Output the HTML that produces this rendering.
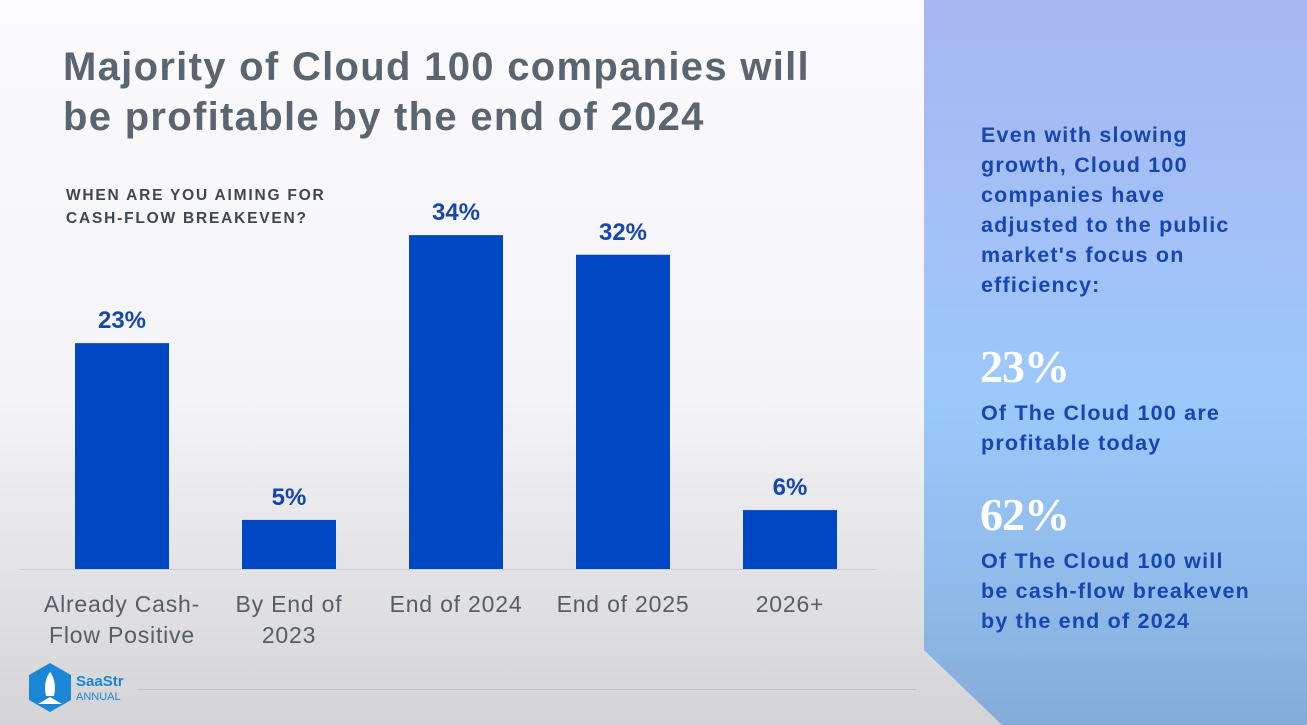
<!DOCTYPE html>
<html><head><meta charset="utf-8"><style>
body{margin:0;width:1307px;height:725px;overflow:hidden;font-family:"Liberation Sans",sans-serif;}
#bg{position:absolute;left:0;top:0;width:1307px;height:725px;background:linear-gradient(180deg,#fbfbfd 0%,#f4f4f6 55%,#e2e2e4 80%,#d4d4d6 100%);}
#panel{position:absolute;left:924px;top:0;width:383px;height:725px;background:linear-gradient(180deg,#a7b7f1 0%,#a2c2f8 35%,#9cc9fc 55%,#90bbea 80%,#84acd8 100%);clip-path:polygon(0 0,100% 0,100% 100%,78px 100%,0 650px);}
.t{position:absolute;white-space:nowrap;}
#title{left:63px;top:42px;font-size:40px;font-weight:bold;color:#5b6570;line-height:50px;letter-spacing:1.3px;}
#sub{left:66px;top:184px;font-size:15.5px;font-weight:bold;color:#3e4650;line-height:23px;letter-spacing:1.8px;}
.side{left:981px;font-size:21.5px;font-weight:bold;color:#1645b4;line-height:30px;letter-spacing:1.2px;}
.big{font-family:"Liberation Serif",serif;font-weight:bold;color:#fff;font-size:46px;left:980px;letter-spacing:-1px;}
svg{position:absolute;left:0;top:0;}
</style></head><body>
<div id="bg"></div>
<div id="panel"></div>
<div class="t" id="title">Majority of Cloud 100 companies will<br>be profitable by the end of 2024</div>
<div class="t" id="sub">WHEN ARE YOU AIMING FOR<br>CASH-FLOW BREAKEVEN?</div>
<div class="t side" style="top:120px">Even with slowing<br>growth, Cloud 100<br>companies have<br>adjusted to the public<br>market's focus on<br>efficiency:</div>
<div class="t big" style="top:340px">23%</div>
<div class="t side" style="top:398px">Of The Cloud 100 are<br>profitable today</div>
<div class="t big" style="top:488px">62%</div>
<div class="t side" style="top:546px">Of The Cloud 100 will<br>be cash-flow breakeven<br>by the end of 2024</div>
<svg width="1307" height="725" id="chart">
<line x1="20" y1="569.5" x2="876" y2="569.5" stroke="#cfcfd3" stroke-width="1"/>
<line x1="137" y1="689.5" x2="916" y2="689.5" stroke="#b8c0cc" stroke-width="1"/>
<g>
<polygon points="50,663 71,675 71,700 50,712 29,700 29,675" fill="#1a86d6"/>
<path d="M50,672 C55,678 56,688 54,696 L46,696 C44,688 45,678 50,672Z" fill="#fff"/>
<path d="M38,704 L50,697 L62,704 Z" fill="#fff"/>
<text x="76" y="686" font-size="15" font-weight="bold" fill="#1a86d6" font-family="Liberation Sans">SaaStr</text>
<text x="76" y="700" font-size="11" fill="#1a86d6" font-family="Liberation Sans">ANNUAL</text>
</g>
</svg>
<script>
const categories=[["Already Cash-","Flow Positive"],["By End of","2023"],["End of 2024"],["End of 2025"],["2026+"]];
const values=[23,5,34,32,6];
const valueLabels=["23%","5%","34%","32%","6%"];
const svg=document.getElementById('chart');
const NS='http://www.w3.org/2000/svg';
const base=569, pxPer=9.82, x0=122, step=167, bw=94;
const yScale=v=>base-v*pxPer;
const xScale=i=>x0+i*step;
values.forEach((v,i)=>{
  const r=document.createElementNS(NS,'rect');
  r.setAttribute('x',xScale(i)-bw/2);r.setAttribute('y',yScale(v));
  r.setAttribute('width',bw);r.setAttribute('height',base-yScale(v));
  r.setAttribute('fill','#0047c4');
  
  
  svg.appendChild(r);
  const t=document.createElementNS(NS,'text');
  t.setAttribute('x',xScale(i));t.setAttribute('y',yScale(v)-15);
  t.setAttribute('text-anchor','middle');t.setAttribute('font-size','24');
  t.setAttribute('font-weight','bold');t.setAttribute('fill','#1746b0');
  t.setAttribute('font-family','Liberation Sans');
  t.textContent=valueLabels[i];
  
  
  svg.appendChild(t);
  categories[i].forEach((line,j)=>{
    const c=document.createElementNS(NS,'text');
    c.setAttribute('x',xScale(i));c.setAttribute('y',612+j*31);
    c.setAttribute('text-anchor','middle');c.setAttribute('font-size','23');
    c.setAttribute('letter-spacing','0.8');
    c.setAttribute('fill','#555d66');c.setAttribute('font-family','Liberation Sans');
    c.textContent=line;
    
    
    svg.appendChild(c);
  });
});
</script>
</body></html>
